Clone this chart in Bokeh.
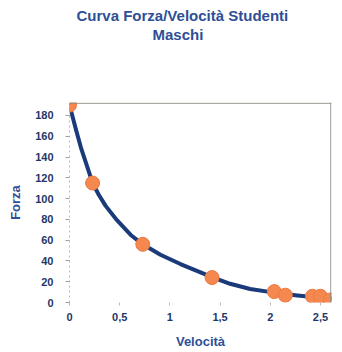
from bokeh.plotting import figure
from bokeh.models import Range1d, FixedTicker, CustomJSTickFormatter, Span, Title
from bokeh.embed import file_html
from bokeh.resources import INLINE

# data
velocita = [0.0, 0.23, 0.73, 1.42, 2.04, 2.15, 2.42, 2.50, 2.60]
forza = [190, 115, 56, 24, 10.5, 7, 6, 6, 2.5]

# trend curve
curve_v = [0.0, 0.067, 0.117, 0.182, 0.23, 0.29, 0.36, 0.475, 0.61, 0.73, 0.906,
           1.105, 1.305, 1.42, 1.60, 1.80, 2.04, 2.27, 2.45, 2.62]
curve_f = [190, 165.5, 148, 129, 115, 104, 93, 79, 65, 56, 46,
           37, 29, 24.5, 18, 13, 9.5, 6.8, 5, 3.5]

x_ticks = [0, 0.5, 1, 1.5, 2, 2.5]
y_ticks = [0, 20, 40, 60, 80, 100, 120, 140, 160, 180]
title_lines = ["Curva Forza/Velocità Studenti", "Maschi"]

NAVY = "#1f3668"
BLUE = "#2e4f96"
FONT = "Liberation Sans"

p = figure(width=342, height=352, output_backend="svg", toolbar_location=None,
           x_range=Range1d(0, 2.61), y_range=Range1d(0, 192.5),
           min_border_left=69, min_border_right=11, min_border_top=102, min_border_bottom=50,
           title=None)
p.outline_line_color = None
p.xgrid.visible = False
p.ygrid.visible = False
p.background_fill_color = "white"
p.border_fill_color = "white"

# titles (a blank spacer title sits between the frame and the two title lines)
spacer = Title(text=" ", align="left", text_font=FONT, text_font_size="15px",
               text_font_style="bold", standoff=41)
p.add_layout(spacer, "above")
t2 = Title(text=title_lines[1], align="left", offset=83,
           text_font=FONT, text_font_size="15px", text_font_style="bold",
           text_color=BLUE, standoff=0)
p.add_layout(t2, "above")
t1 = Title(text=title_lines[0], align="left", offset=7,
           text_font=FONT, text_font_size="15px", text_font_style="bold",
           text_color=BLUE, standoff=0)
p.add_layout(t1, "above")

# axes
xa = p.xaxis[0]
xa.ticker = FixedTicker(ticks=x_ticks)
xa.formatter = CustomJSTickFormatter(code="return tick.toString().replace('.', ',');")
xa.axis_line_color = None
xa.major_tick_in = 0
xa.major_tick_out = 3
xa.major_tick_line_color = "#b8b8b8"
xa.minor_tick_line_color = None
xa.major_label_standoff = 7
xa.major_label_text_font = FONT
xa.major_label_text_font_size = "11px"
xa.major_label_text_font_style = "bold"
xa.major_label_text_color = NAVY
xa.axis_label = "Velocità"
xa.axis_label_text_font = FONT
xa.axis_label_text_font_size = "13px"
xa.axis_label_text_font_style = "bold"
xa.axis_label_text_color = BLUE
xa.axis_label_standoff = 10

ya = p.yaxis[0]
ya.ticker = FixedTicker(ticks=y_ticks)
ya.axis_line_color = "#b8b8b8"
ya.axis_line_dash = "2 3"
ya.major_tick_in = 0
ya.major_tick_out = 4
ya.major_tick_line_color = "#a0a0a0"
ya.minor_tick_line_color = None
ya.major_label_standoff = 12
ya.major_label_text_font = FONT
ya.major_label_text_font_size = "11px"
ya.major_label_text_font_style = "bold"
ya.major_label_text_color = NAVY
ya.axis_label = "Forza"
ya.axis_label_text_font = FONT
ya.axis_label_text_font_size = "13px"
ya.axis_label_text_font_style = "bold"
ya.axis_label_text_color = BLUE
ya.axis_label_standoff = 9

# top and right frame lines
p.add_layout(Span(location=191.8, dimension="width", line_color="#8a8a80", line_width=1))
p.add_layout(Span(location=2.603, dimension="height", line_color="#8a8a8a", line_width=1))

p.line(curve_v, curve_f, line_color="#1a3a7a", line_width=4, line_join="round", line_cap="round")
p.scatter(velocita, forza, size=14, fill_color="#f5884f", line_color="#ec7a42", line_width=1)

open("out.html", "w").write(file_html(p, INLINE))
